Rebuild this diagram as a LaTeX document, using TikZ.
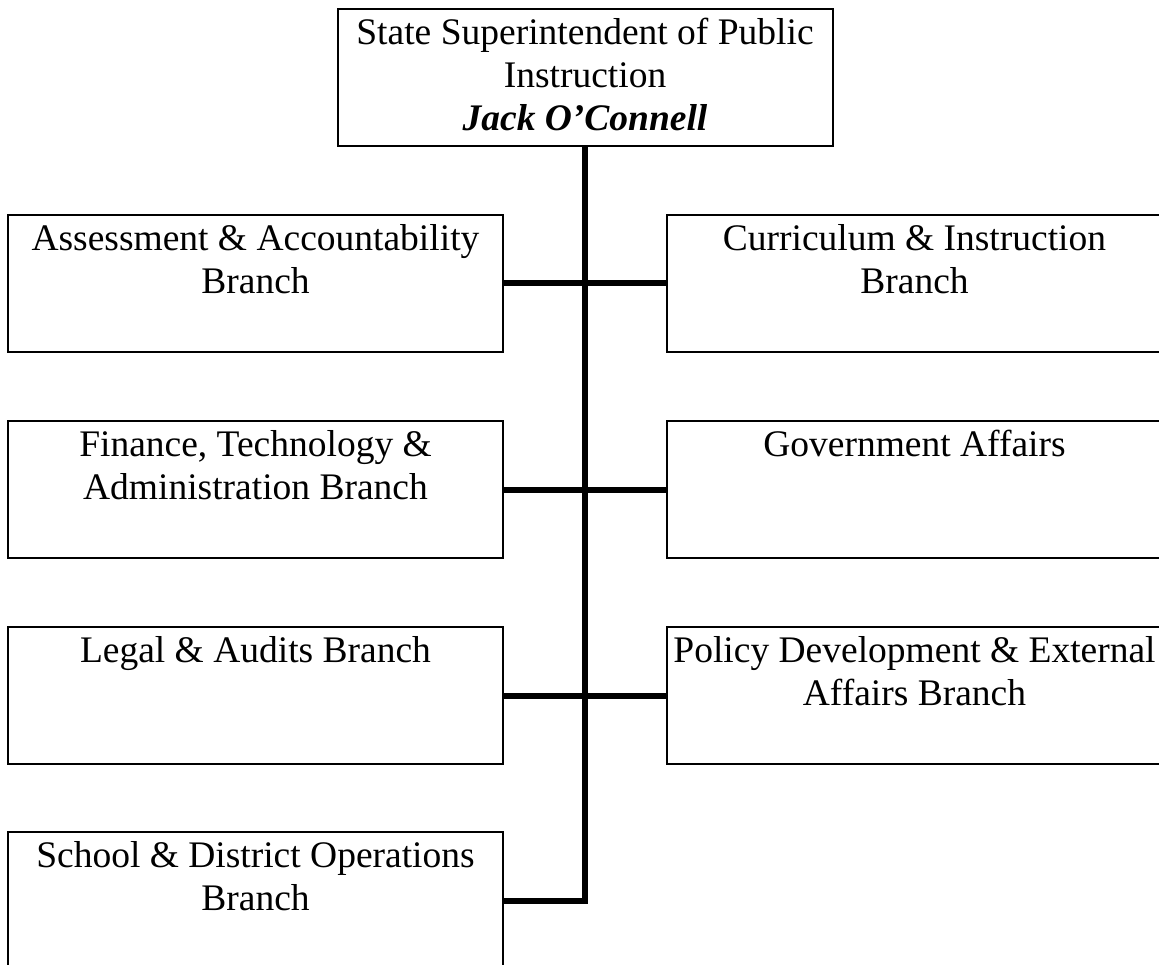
\documentclass[tikz,border=0pt]{standalone}
\usepackage{fontspec}
\setmainfont{Liberation Serif}
\usepackage{tikz}
\def\boxtext#1{\parbox[c][127pt][t]{494pt}{\centering\strut #1}}

\begin{document}
\begin{tikzpicture}[x=1pt, y=-1pt,
		unit/.style={draw, line width=2pt, minimum width=495pt, minimum height=137pt, inner sep=0pt, font=\fontsize{37.5}{43}\selectfont},
		trunk/.style={line width=6pt, line join=miter}]
				\clip (0,0) rectangle (1159,965);
				
				\node[unit] (chief) at (585,77.5) {\boxtext{State Superintendent of Public\\Instruction\\\textbf{\textit{Jack O’Connell}}}};
				
				\node[unit] (assess) at (255.5,283.5) {\boxtext{Assessment \& Accountability\\Branch}};
				\node[unit] (finance) at (255.5,489.5) {\boxtext{Finance, Technology \&\\Administration Branch}};
				\node[unit] (legal) at (255.5,695.5) {\boxtext{Legal \& Audits Branch}};
				\node[unit] (school) at (255.5,900.5) {\boxtext{School \& District Operations\\Branch}};
				
				\node[unit] (curric) at (914.5,283.5) {\boxtext{Curriculum \& Instruction\\Branch}};
				\node[unit] (govt) at (914.5,489.5) {\boxtext{Government Affairs}};
				\node[unit] (policy) at (914.5,695.5) {\boxtext{Policy Development \& External\\Affairs Branch}};
				
				\draw[trunk] (chief.south) -- (chief.south |- school.east) -- (school.east);
				\draw[trunk] (assess.east) -- (curric.west);
				\draw[trunk] (finance.east) -- (govt.west);
				\draw[trunk] (legal.east) -- (policy.west);
			\end{tikzpicture}
\end{document}
